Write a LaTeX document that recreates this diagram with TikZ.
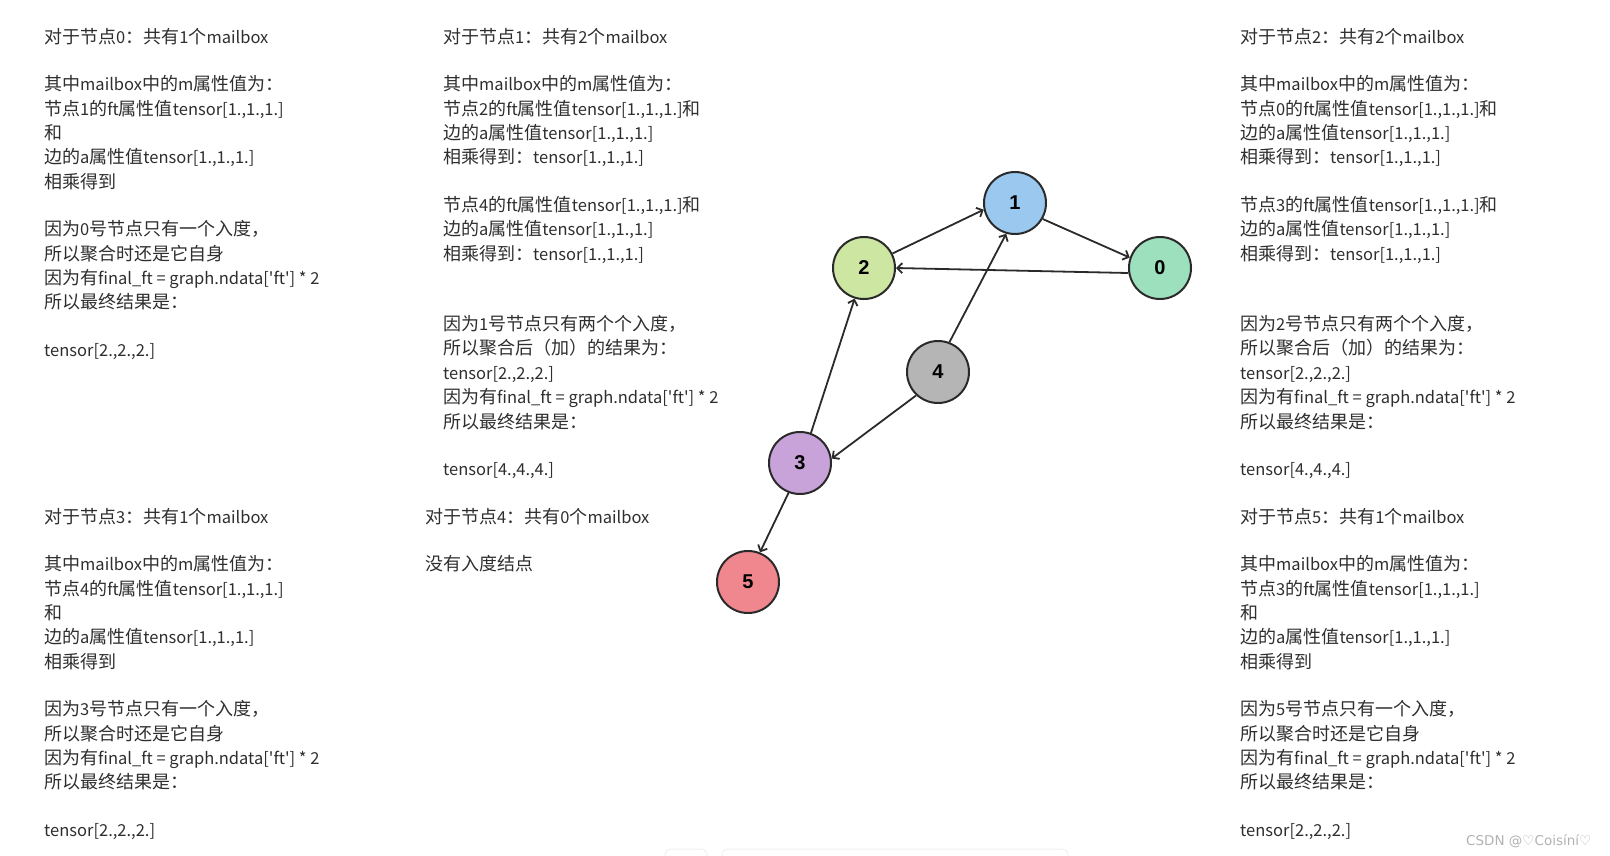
\documentclass[tikz,border=0pt]{standalone}
\usepackage{fontspec}
\setmainfont{Noto Sans CJK SC}
\newfontfamily\cjkfam{Noto Sans CJK SC}
\newfontfamily\numfont{Liberation Sans}
\newfontfamily\markfont{DejaVu Sans}
\usetikzlibrary{arrows.meta}

% ideographs a bit larger than the latin letters
\newcommand{\cjksize}{\cjkfam\fontsize{18}{24.4}\selectfont}
\newcommand{\latsize}{\cjkfam\fontsize{16.5}{24.4}\selectfont}
\newXeTeXintercharclass\cjkclass
\newcount\cjkcode
\cjkcode="3000
\loop\ifnum\cjkcode<"A000 \XeTeXcharclass\cjkcode=\cjkclass \advance\cjkcode by 1 \repeat
\cjkcode="FF00
\loop\ifnum\cjkcode<"FFF0 \XeTeXcharclass\cjkcode=\cjkclass \advance\cjkcode by 1 \repeat
\XeTeXinterchartoks 0 \cjkclass = {\cjksize}
\XeTeXinterchartoks 4095 \cjkclass = {\cjksize}
\XeTeXinterchartoks \cjkclass 0 = {\latsize}
\XeTeXinterchartoks \cjkclass 4095 = {\latsize}
\XeTeXinterchartokenstate=1

\definecolor{txtgray}{HTML}{2E2E2E}
\definecolor{edgegray}{HTML}{2A2A2A}
\definecolor{vblue}{HTML}{9BC8EE}
\definecolor{vgreen}{HTML}{CDE6A1}
\definecolor{vmint}{HTML}{9DE0BE}
\definecolor{vgray}{HTML}{B5B5B5}
\definecolor{vlilac}{HTML}{C7A3D9}
\definecolor{vred}{HTML}{F0878E}
\newcommand{\sq}{\textquotesingle}

\begin{document}
\begin{tikzpicture}[
    x=1pt, y=-1pt,
    noteblock/.style={anchor=north west, inner sep=0pt, align=left, text=txtgray, font=\latsize},
    vertex/.style={circle, draw=edgegray, line width=2pt, minimum size=62pt, inner sep=0pt, font=\numfont\bfseries\fontsize{20}{24}\selectfont},
    link/.style={draw=edgegray, line width=1.8pt, -{Straight Barb[length=5pt, width=10pt]}}
]
\useasboundingbox (0,0) rectangle (1610,855);

% Explanation blocks, top row
\node[noteblock] (note0) at (44,28) {对于节点0：共有1个mailbox\\[23pt]
其中mailbox中的m属性值为：\\
节点1的ft属性值tensor[1.,1.,1.]\\
和\\
边的a属性值tensor[1.,1.,1.]\\
相乘得到\\[23pt]
因为0号节点只有一个入度，\\
所以聚合时还是它自身\\
因为有final\_ft = graph.ndata[\sq ft\sq] * 2\\
所以最终结果是：\\[23pt]
tensor[2.,2.,2.]};

\node[noteblock] (note1) at (443,28) {对于节点1：共有2个mailbox\\[23pt]
其中mailbox中的m属性值为：\\
节点2的ft属性值tensor[1.,1.,1.]和\\
边的a属性值tensor[1.,1.,1.]\\
相乘得到：tensor[1.,1.,1.]\\[23pt]
节点4的ft属性值tensor[1.,1.,1.]和\\
边的a属性值tensor[1.,1.,1.]\\
相乘得到：tensor[1.,1.,1.]\\[46pt]
因为1号节点只有两个个入度，\\
所以聚合后（加）的结果为：\\
tensor[2.,2.,2.]\\
因为有final\_ft = graph.ndata[\sq ft\sq] * 2\\
所以最终结果是：\\[23pt]
tensor[4.,4.,4.]};

\node[noteblock] (note2) at (1240,28) {对于节点2：共有2个mailbox\\[23pt]
其中mailbox中的m属性值为：\\
节点0的ft属性值tensor[1.,1.,1.]和\\
边的a属性值tensor[1.,1.,1.]\\
相乘得到：tensor[1.,1.,1.]\\[23pt]
节点3的ft属性值tensor[1.,1.,1.]和\\
边的a属性值tensor[1.,1.,1.]\\
相乘得到：tensor[1.,1.,1.]\\[46pt]
因为2号节点只有两个个入度，\\
所以聚合后（加）的结果为：\\
tensor[2.,2.,2.]\\
因为有final\_ft = graph.ndata[\sq ft\sq] * 2\\
所以最终结果是：\\[23pt]
tensor[4.,4.,4.]};

% Explanation blocks, bottom row
\node[noteblock] (note3) at (44,508) {对于节点3：共有1个mailbox\\[23pt]
其中mailbox中的m属性值为：\\
节点4的ft属性值tensor[1.,1.,1.]\\
和\\
边的a属性值tensor[1.,1.,1.]\\
相乘得到\\[23pt]
因为3号节点只有一个入度，\\
所以聚合时还是它自身\\
因为有final\_ft = graph.ndata[\sq ft\sq] * 2\\
所以最终结果是：\\[23pt]
tensor[2.,2.,2.]};

\node[noteblock] (note4) at (425,508) {对于节点4：共有0个mailbox\\[23pt]
没有入度结点};

\node[noteblock] (note5) at (1240,508) {对于节点5：共有1个mailbox\\[23pt]
其中mailbox中的m属性值为：\\
节点3的ft属性值tensor[1.,1.,1.]\\
和\\
边的a属性值tensor[1.,1.,1.]\\
相乘得到\\[23pt]
因为5号节点只有一个入度，\\
所以聚合时还是它自身\\
因为有final\_ft = graph.ndata[\sq ft\sq] * 2\\
所以最终结果是：\\[23pt]
tensor[2.,2.,2.]};

% Graph vertices
\node[vertex, fill=vmint]  (n0) at (1160,268) {0};
\node[vertex, fill=vblue]  (n1) at (1015,203) {1};
\node[vertex, fill=vgreen] (n2) at (864,268)  {2};
\node[vertex, fill=vlilac] (n3) at (800,463)  {3};
\node[vertex, fill=vgray]  (n4) at (938,372)  {4};
\node[vertex, fill=vred]   (n5) at (748,582)  {5};

% Graph edges
\draw[link] (n2.27)  -- (n1.192);
\draw[link] (n1.330) -- (n0.161);
\draw[link] (n0.189) -- (n2.0);
\draw[link] (n4.69)  -- (n1.254);
\draw[link] (n4.227) -- (n3.8);
\draw[link] (n3.70)  -- (n2.253);
\draw[link] (n3.249) -- (n5.68);

% Page artefacts and watermark
\draw[gray!12, line width=1pt, rounded corners=6pt] (665,862) -- (665,849) -- (707,849) -- (707,862);
\draw[gray!12, line width=1pt, rounded corners=6pt] (722,862) -- (722,849) -- (1068,849) -- (1068,862);
\node[font=\markfont\fontsize{13.5}{16}\selectfont, text=gray!60, anchor=west, inner sep=0pt] (mark) at (1466,841) {CSDN @♡Coisíní♡};
\end{tikzpicture}
\end{document}
